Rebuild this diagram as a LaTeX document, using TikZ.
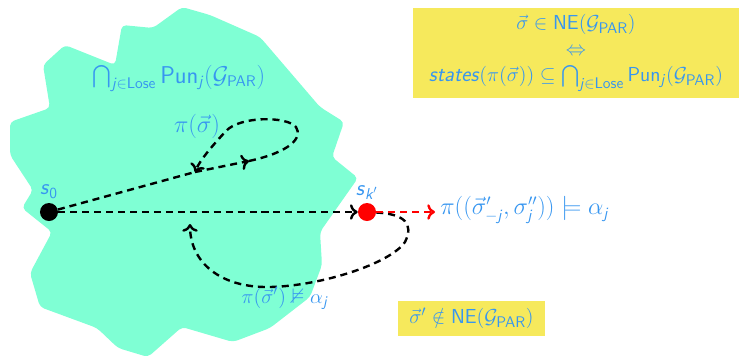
\documentclass[tikz,border=0pt]{standalone}
\usepackage{amsmath,amssymb}
\usetikzlibrary{arrows.meta}
\renewcommand{\familydefault}{\sfdefault}
\newcommand{\sv}[1]{\textsf{\textit{#1}}}

\definecolor{aqua}{RGB}{127,255,212}
\definecolor{skyblue}{RGB}{55,150,240}
\definecolor{ylw}{RGB}{246,233,92}

\tikzstyle{blob} = [fill=aqua, rounded corners=3pt]
\tikzstyle{run} = [line width=1.7pt, dash pattern=on 5pt off 3.5pt,
    >={Computer Modern Rightarrow[length=5.5pt, width=11pt]}]
\tikzstyle{dot} = [circle, fill, inner sep=0pt, minimum size=0.45cm]
\tikzstyle{lbl} = [text=skyblue, inner sep=0pt, font=\fontsize{16}{18}\selectfont]
\tikzstyle{ybox} = [fill=ylw, text=skyblue, inner sep=0pt, align=center, font=\fontsize{15.5}{18.5}\selectfont]

\begin{document}
\begin{tikzpicture}[x=0.025cm, y=-0.025cm]
\useasboundingbox (0,0) rectangle (739,358);

% punishing region
\fill[blob] (182,7) -- (210,15) -- (260,37) -- (320,107) -- (344,122) -- (332,157)
    -- (358,178) -- (320,232) -- (322,265) -- (310,297) -- (270,328) -- (233,342)
    -- (182,327) -- (148,357) -- (118,348) -- (97,328) -- (40,307) -- (30,273)
    -- (52,232) -- (22,208) -- (33,190) -- (10,155) -- (10,122) -- (50,108)
    -- (43,65) -- (65,45) -- (115,65) -- (122,25) -- (153,28) -- cycle;
\node[lbl, anchor=base] (pun) at (179,83)
    {$\bigcap_{\sv{j}\in\mathsf{Lose}}\mathsf{Pun}_{\sv{j}}(\mathcal{G}_{\mathsf{PAR}})$};

% states
\node[dot, label={[lbl, label distance=3pt]above:$\sv{s}_{\mathsf{0}}$}] (s0) at (49,212) {};
\node[dot, red, label={[lbl, label distance=2pt]above:$\sv{s}_{\sv{k}'}$}] (sk) at (367,212) {};
\coordinate (A) at (195,172);
\coordinate (B) at (249,161);
\coordinate (back) at (190,224);
\coordinate (tip) at (435,212);

% plays
\draw[run] (s0) -- (A);
\draw[run,->] (A) -- (B);
\draw[run,->] (B) .. controls (290,152) and (303,138) .. (296,127)
    .. controls (287,116) and (240,116) .. (226,131)
    .. controls (213,145) and (200,160) .. (A);
\draw[run,->] (s0) -- (sk);
\draw[run,->] (sk) .. controls (405,214) and (414,224) .. (405,242)
    .. controls (390,264) and (320,286) .. (270,287)
    .. controls (220,288) and (190,262) .. (back);
\draw[run,red,->] (sk) -- (tip);

\node[lbl, anchor=base, font=\fontsize{18}{20}\selectfont] (pisig) at (197,132) {$\pi(\vec\sigma)$};
\node[lbl, anchor=base, font=\fontsize{15}{17}\selectfont] (pidev) at (285,303)
    {$\pi(\vec\sigma')\nvDash\alpha_{\sv{j}}$};
\node[lbl, anchor=base west, font=\fontsize{16}{19}\selectfont] (win) at (440,214.5)
    {$\pi((\vec\sigma'_{-\sv{j}},\sigma''_{\sv{j}}))\models\alpha_{\sv{j}}$};

% notes
\node[ybox, minimum width=8.15cm, minimum height=2.225cm] (iff) at (576,53)
    {$\vec\sigma\in\mathsf{NE}(\mathcal{G}_{\mathsf{PAR}})$\\
     $\Leftrightarrow$\\
     $\sv{states}(\pi(\vec\sigma))\subseteq\bigcap_{\sv{j}\in\mathsf{Lose}}\mathsf{Pun}_{\sv{j}}(\mathcal{G}_{\mathsf{PAR}})$};
\node[ybox, minimum width=3.675cm, minimum height=0.875cm] (notne) at (471.5,318)
    {$\vec\sigma'\notin\mathsf{NE}(\mathcal{G}_{\mathsf{PAR}})$};
\end{tikzpicture}
\end{document}
